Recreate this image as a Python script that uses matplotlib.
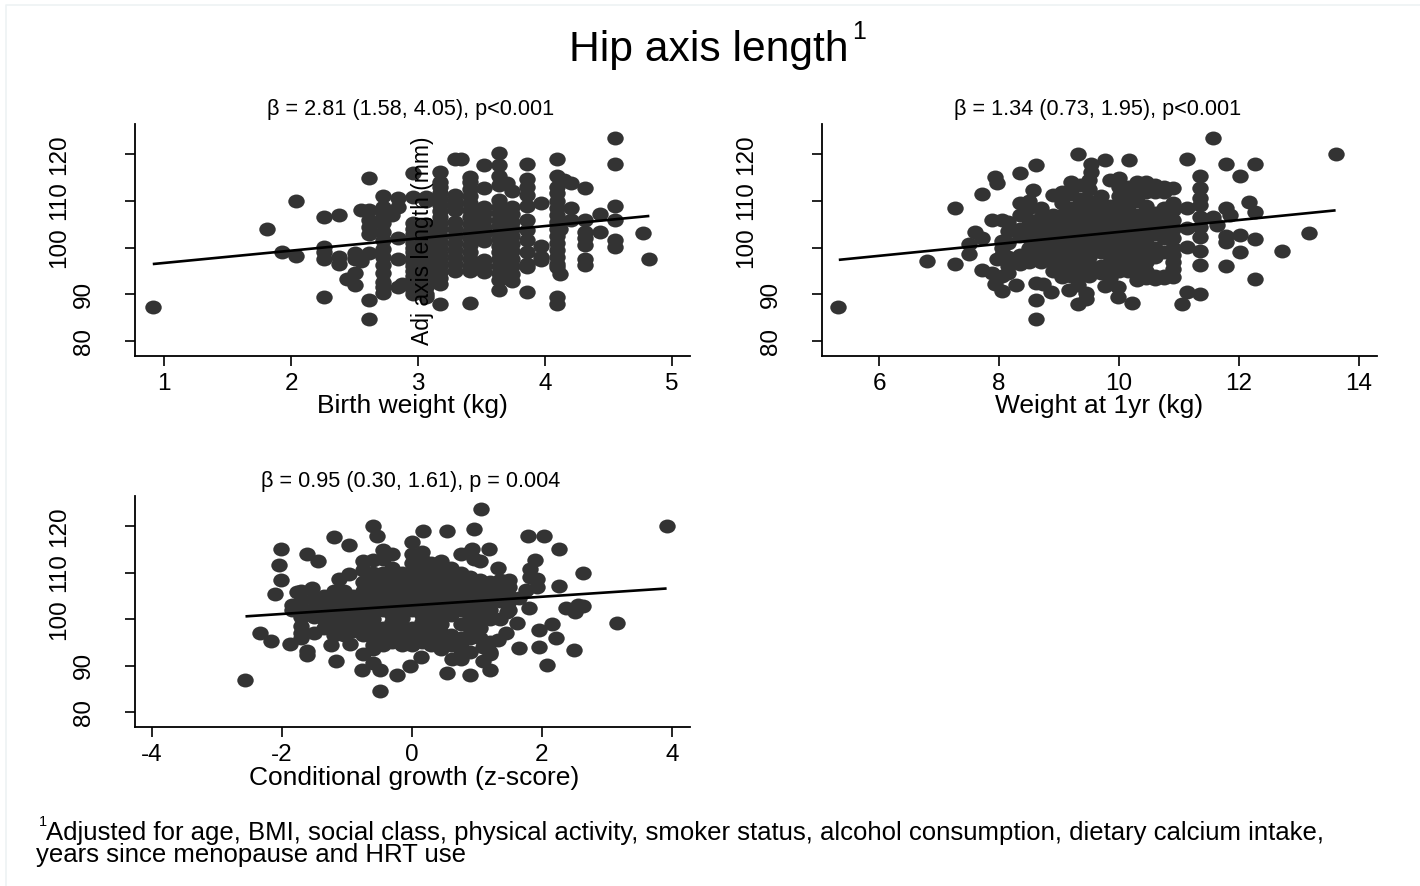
import matplotlib
matplotlib.use('Agg')
import matplotlib.pyplot as plt
from matplotlib.lines import Line2D
from matplotlib.path import Path
from matplotlib.transforms import Affine2D

plt.rcParams['font.family'] = ['Liberation Sans', 'DejaVu Sans']
plt.rcParams['axes.unicode_minus'] = False

W, H = 1420, 886
DOT = '#333333'

y_ticks = [80, 90, 100, 110, 120]

# birth weight panel, measured in columns (kg, [mm, ...])
bw_cols = [
    (0.91, [87.2]), (1.81, [104.1]), (1.93, [99.1]), (2.04, [110, 98.3]),
    (2.26, [106.5, 100.2, 99, 97.5, 89.4]), (2.38, [107, 98, 96.5]), (2.44, [93.2]),
    (2.5, [98.8, 97.5, 94.6, 92.1]), (2.55, [108, 97.2]),
    (2.61, [115, 108, 105.9, 104.5, 103, 98.9, 88.9, 84.7]),
    (2.72, [111.1, 108.8, 107, 105.2, 103.4, 101.6, 99.8, 98, 96.3, 94.5, 92.7, 91.6, 90.3]),
    (2.79, [107]), (2.84, [110.6, 108.8, 102, 97.5, 91.5]), (2.87, [92.3]),
    (2.96, [115.9, 110.9, 105.2, 104, 103, 102, 101, 100, 99, 98, 97, 96, 95, 94, 93, 92, 91, 90]),
    (3.06, [110.9, 110, 105, 103.5, 102, 100.5, 99, 97.5, 96, 94.5, 93, 91.5, 90, 89.5]),
    (3.17, [116.3, 114, 113, 111.7, 110.4, 109.1, 107.8, 106.5, 105.2, 103.9, 102.6, 101.3, 100,
            98.7, 97.4, 96.1, 94.8, 93.5, 92.2, 88]),
    (3.29, [119, 111.3, 110, 109, 108, 105.5, 104, 102.5, 101, 99.5, 98, 96.5, 95]), (3.34, [118.9]),
    (3.41, [115.2, 114, 112.5, 111, 109.5, 108, 106.5, 105, 103.5, 102, 100.5, 99, 97.5, 96, 95, 88.2]),
    (3.52, [117.7, 112.7, 108.8, 107.5, 106, 104.5, 103, 101.5, 97.3, 96, 94.8]),
    (3.64, [120.2, 117.7, 115.3, 113.4, 110.2, 108.8, 107.4, 106, 104.6, 103.2, 101.8, 100.4, 99,
            97.6, 96, 94.6, 93, 91]),
    (3.7, [113.8]),
    (3.74, [112.2, 108.8, 107.2, 105.6, 104, 102.4, 100.8, 99.2, 97.6, 96, 94.4, 92.8]),
    (3.86, [118, 114.8, 113, 111.3, 109, 105.9, 103.8, 101.6, 99, 96.6, 95.9, 90.5]),
    (3.97, [109.5, 100.3, 98, 97.3]),
    (4.09, [119.1, 115.3, 113, 111.8, 110, 108.5, 107, 105.5, 104, 102.5, 101, 99.5, 98, 96.5, 95.9, 89.5, 87.9]),
    (4.12, [104.1, 94.3]), (4.15, [114.6]), (4.2, [113.9, 108.4, 105.9]),
    (4.31, [112.7, 106, 103.4, 102, 100.5, 97.5, 96.3]), (4.43, [107.3, 103.4]),
    (4.55, [123.6, 118, 109, 105.9, 101.6, 100.2]), (4.77, [103.2]), (4.82, [97.5]),
]
bw_line_x = [0.91, 4.82]
bw_line_y = [96.5, 106.8]

# weight at 1 year panel
w1_cols = [
    (5.32, [87.2]), (6.8, [97.2]), (7.26, [108.4, 96.5]), (7.5, [100.9, 98.6]), (7.6, [103.3]),
    (7.71, [111.4, 102, 95.2]), (7.88, [106, 94.5]), (7.94, [115.2, 92.3]), (7.97, [113.9, 97.5]),
    (8.05, [106, 101.5, 100, 98.5, 94, 90.7]), (8.15, [105.5, 103.5, 101, 98, 96, 94.5]),
    (8.28, [92.1]), (8.35, [115.9, 109.5, 107, 104, 102.5, 98.5, 97.5, 96.5]),
    (8.5, [110, 108.5, 106, 104, 102, 100, 98.5, 97]),
    (8.57, [112.3]), (8.62, [117.7, 92.5, 88.9, 84.7]),
    (8.7, [108.5, 106.5, 104.5, 102.5, 100.5, 98.5, 97]), (8.74, [92.3]), (8.86, [90.5]),
    (8.9, [111.3, 107, 105, 103, 101, 99, 97, 95]),
    (9.05, [112, 109.5, 107, 105, 103, 101, 99, 97, 95, 93.8]), (9.17, [91]),
    (9.2, [114, 111.5, 108.5, 106, 104, 102, 100, 98, 96, 94]),
    (9.31, [120.1, 92, 88]), (9.35, [113.5, 110.5, 108, 106, 104, 102, 100, 98, 96, 94]),
    (9.45, [90.2, 89.1]), (9.5, [114.5, 112.5, 110, 108, 106, 104, 102, 100, 98, 96, 94]),
    (9.54, [118, 116.3]), (9.7, [111, 109, 107, 105, 103, 101, 99, 96, 94.5]), (9.76, [118.8, 91.7]),
    (9.85, [114.5, 109, 107, 105, 103, 101, 99, 97, 95, 93.5]), (9.98, [91.6, 89.5]),
    (10, [115, 113, 111, 109, 107, 105, 103, 101, 99, 97, 95]), (10.16, [118.8]),
    (10.15, [113, 111, 109, 107, 105, 103, 101, 99, 97, 95]), (10.22, [88.2]),
    (10.3, [114, 112.5, 110, 107, 105, 103, 101, 99, 97, 95, 93]),
    (10.45, [114, 112, 109, 107, 105, 103, 101, 99, 97, 95, 93.5]),
    (10.6, [113.5, 112, 107.5, 105.5, 103, 100, 98, 94, 93.3]),
    (10.75, [113, 112, 108.5, 106.5, 104.5, 102, 99, 94, 93.5]),
    (10.9, [112.7, 109.5, 108, 106, 104, 102, 100, 98.5, 97, 95.5, 93.8]),
    (11.05, [87.9]), (11.13, [119.1, 108.6, 104.3, 100.2, 90.5]),
    (11.35, [115.3, 112.7, 110.6, 109.1, 106.6, 104.5, 102.3, 99.3, 96.4, 90]),
    (11.56, [123.4, 106.6]), (11.64, [104.8]), (11.79, [117.9, 108.6, 102.5, 101.3, 96.1]),
    (11.85, [107]), (12.02, [115.3, 102.7, 99]), (12.16, [109.7]),
    (12.26, [118, 107.6, 101.8, 93.2]), (12.71, [99.3]), (13.16, [103.2]), (13.62, [120.1]),
]
w1_line_x = [5.33, 13.61]
w1_line_y = [97.4, 108]

# conditional growth panel
cg_cols = [
    (-2.57, [87]), (-2.33, [97.1]), (-2.16, [95.2]), (-2.1, [105.5]), (-2.05, [111.6]),
    (-2.02, [115.2, 108.5]), (-1.88, [94.7]), (-1.85, [103, 102]), (-1.76, [105.9]),
    (-1.7, [106, 104, 102, 100.5, 98.5, 97, 96]), (-1.62, [114.1, 92.2, 93.1]),
    (-1.53, [106.8]), (-1.5, [104.5, 102.5, 100.5, 97]), (-1.44, [112.5]),
    (-1.35, [105, 103.5, 101.5, 100, 98]), (-1.24, [94.5]), (-1.2, [117.7, 106, 104, 102, 100, 98, 96.5]),
    (-1.17, [90.9]), (-1.12, [108.7]), (-1.05, [106, 104, 102, 100, 98, 96.5]),
    (-0.97, [115.9, 109.7]), (-0.95, [94.7]), (-0.9, [105, 103, 101, 99, 97.5]),
    (-0.77, [89]), (-0.75, [112.5, 110.5, 108, 106, 104, 102, 100, 98, 96.5, 92.6]),
    (-0.6, [120.1, 112.8, 110, 108, 106, 104, 102, 100, 98, 96, 94.5, 93.5, 90.6]),
    (-0.53, [117.9]), (-0.49, [89, 84.5]),
    (-0.45, [114.8, 113, 110, 108, 106, 104, 102, 98, 96, 94.5]),
    (-0.3, [114, 111, 109, 107, 105, 103, 101, 99.3, 97, 95]), (-0.23, [88]),
    (-0.15, [110, 108, 106, 104, 102, 100.3, 98, 96, 94.5]), (-0.03, [89.9]),
    (0, [116.5, 114, 112, 110, 108, 106, 104, 102, 98, 96, 94.5]),
    (0.14, [91.9]), (0.17, [118.9]),
    (0.15, [114.5, 113, 111, 109, 107, 105, 103, 101, 99.3, 97, 95]),
    (0.3, [112, 110, 108, 106, 104, 102, 100, 98, 96.5, 94.5]),
    (0.45, [112.5, 111, 109, 107, 105, 103, 101, 99, 97, 95, 93.5]),
    (0.54, [118.9, 88.4]), (0.6, [111, 109, 107, 105, 103, 101, 96.5, 94.5]),
    (0.62, [91.5]), (0.75, [114, 110, 108, 106, 104, 102, 99, 96, 94, 93.3, 91.4]),
    (0.89, [87.9]), (0.9, [114.5, 109, 107, 105, 103, 100.5, 98, 96, 93]),
    (0.93, [115.2]), (0.95, [119.3, 113]), (1.05, [112.5, 108.5, 106.5, 104.5, 102.5, 100, 98, 96]),
    (1.06, [123.6]), (1.1, [94, 91.1]), (1.18, [115.2]), (1.2, [108, 106, 104, 102, 100, 95, 93, 92.5]),
    (1.21, [89.1]), (1.33, [111.1, 95.5]), (1.35, [108.5, 106, 104, 100]), (1.45, [97.1]),
    (1.47, [101.6]), (1.5, [108.5, 107, 105, 104, 102]), (1.62, [99.2]), (1.65, [93.7, 104.5]),
    (1.76, [106.2]), (1.78, [118]), (1.81, [102.4]), (1.82, [110.7, 109.1]),
    (1.9, [112.8]), (1.93, [108.7, 106.9]), (1.96, [97.7, 94]), (2.03, [117.8]), (2.08, [90.1]),
    (2.16, [99]), (2.22, [95.9]), (2.26, [115.2, 107.2]), (2.37, [102.4]), (2.5, [93.3]),
    (2.51, [101.6]), (2.56, [103.1]), (2.63, [110, 102.8]), (3.15, [99.2]), (3.92, [120]),
]
cg_line_x = [-2.56, 3.92]
cg_line_y = [100.6, 106.6]

panels = [
    # cols, line x, line y, xticks, xlim, box in pixels (l, t, r, b), title, xlabel, xlabel y
    (bw_cols, bw_line_x, bw_line_y, [1, 2, 3, 4, 5], (0.77, 5.14), (135, 124, 690, 356),
     'β = 2.81 (1.58, 4.05), p<0.001', 'Birth weight (kg)', 405.5),
    (w1_cols, w1_line_x, w1_line_y, [6, 8, 10, 12, 14], (5.05, 14.3), (822, 124, 1377, 356),
     'β = 1.34 (0.73, 1.95), p<0.001', 'Weight at 1yr (kg)', 405.5),
    (cg_cols, cg_line_x, cg_line_y, [-4, -2, 0, 2, 4], (-4.26, 4.28), (135, 496, 690, 727),
     'β = 0.95 (0.30, 1.61), p = 0.004', 'Conditional growth (z-score)', 778),
]

dot_marker = Path.unit_circle().transformed(Affine2D().scale(1.18, 1))

fig = plt.figure(figsize=(W / 100, H / 100), dpi=100)

# faint scan edge along top and left
fig.add_artist(Line2D([6 / W, 6 / W, 1], [0, 1 - 5 / H, 1 - 5 / H], color='#edf2f4', lw=1.2))


def put(x, y, s, **kw):
    fig.text(x / W, 1 - y / H, s, ha=kw.pop('ha', 'left'), va=kw.pop('va', 'center'), **kw)


for cols, lx, ly, xt, xl, box, title, xlabel, xlabel_y in panels:
    l, t, r, b = box
    ax = fig.add_axes([l / W, 1 - b / H, (r - l) / W, (b - t) / H])
    xs = [c[0] for c in cols for _ in c[1]]
    ys = [v for c in cols for v in c[1]]
    ax.scatter(xs, ys, s=140, marker=dot_marker, color=DOT, linewidths=0, clip_on=False, zorder=2)
    ax.plot(lx, ly, color='black', lw=1.9, zorder=3, solid_capstyle='butt')
    ax.set_xlim(xl)
    ax.set_ylim(76.8, 126.5)
    ax.set_xticks(xt)
    ax.set_yticks(y_ticks)
    ax.spines['top'].set_visible(False)
    ax.spines['right'].set_visible(False)
    for s in ['left', 'bottom']:
        ax.spines[s].set_linewidth(1.3)
    ax.tick_params(axis='x', length=7, width=1.2, labelsize=17.5, pad=5)
    ax.tick_params(axis='y', length=7, width=1.2, labelsize=17.5)
    # the two-digit labels sit closer to the axis than the three-digit ones
    for tick, val in zip(ax.yaxis.get_major_ticks(), y_ticks):
        tick.set_pad(22 if val < 100 else 40)
        tick.label1.set_rotation(90)
        tick.label1.set_va('center')
    put((l + r) / 2 - 2, t - 14, title, ha='center', fontsize=15.6)
    put((l + r) / 2 + 2 if b > 400 else (l + r) / 2, xlabel_y, xlabel, ha='center', fontsize=19)

# y axis title ends up on top of the first panel
put(423, 241, 'Adj axis length (mm)', ha='center', fontsize=16.5, rotation=90)

put(709, 50.5, 'Hip axis length', ha='center', fontsize=30.7)
put(859, 32, '1', ha='center', fontsize=18)

put(39, 822, '1', ha='left', fontsize=10.5)
put(46, 833, 'Adjusted for age, BMI, social class, physical activity, smoker status, alcohol consumption, '
    'dietary calcium intake,', fontsize=18.5)
put(36, 855, 'years since menopause and HRT use', fontsize=18.5)

plt.savefig('out.png', dpi=100)
